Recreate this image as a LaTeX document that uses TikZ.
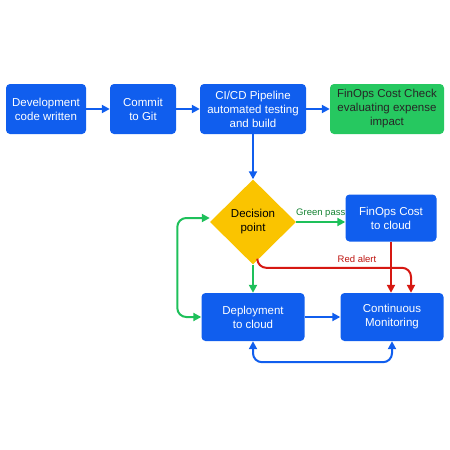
\documentclass[tikz,border=0pt]{standalone}
\usepackage{fontspec}
\setmainfont{Liberation Sans}
\usepackage{tikz}
\usetikzlibrary{shapes.geometric, arrows.meta, positioning, calc}
\definecolor{stageblue}{RGB}{16, 94, 238}
\definecolor{checkgreen}{RGB}{38, 200, 96}
\definecolor{decisiongold}{RGB}{250, 196, 0}
\definecolor{passgreen}{RGB}{30, 192, 90}
\definecolor{alertred}{RGB}{214, 24, 18}
\definecolor{passtext}{RGB}{20, 130, 50}
\definecolor{alerttext}{RGB}{190, 20, 15}

\begin{document}
\begin{tikzpicture}[x=1pt, y=-1pt,
    stage/.style={rectangle, rounded corners=4pt, fill=stageblue, text=white, align=center,
        font=\fontsize{11.5}{14}\selectfont, minimum height=50pt, inner sep=2pt},
    flow/.style={-{Triangle[length=8pt, width=8pt]}, line width=2pt, stageblue},
    passflow/.style={-{Triangle[length=8pt, width=8pt]}, line width=2pt, passgreen},
    alertflow/.style={-{Triangle[length=8pt, width=8pt]}, line width=2pt, alertred},
    bothtips/.style={{Triangle[length=8pt, width=8pt]}-{Triangle[length=8pt, width=8pt]}}]
    \useasboundingbox (0,0) rectangle (450,450);

    % Top row
    \node[stage, minimum width=80pt] (dev) at (46,109) {Development\\code written};
    \node[stage, minimum width=66pt] (commit) at (143,109) {Commit\\to Git};
    \node[stage, minimum width=106pt] (cicd) at (253,109) {CI/CD Pipeline\\automated testing\\and build};
    \node[stage, minimum width=114pt, fill=checkgreen, text=black!85] (costcheck) at (387,109) {FinOps Cost Check\\evaluating expense\\impact};

    % Decision
    \node[diamond, fill=decisiongold, inner sep=0pt, minimum width=86pt, minimum height=85pt,
        align=center, font=\fontsize{11.5}{14}\selectfont] (decide) at (253,222) {Decision\\point};
    \node[stage, minimum width=91pt, minimum height=47pt] (costcloud) at (391,218) {FinOps Cost\\to cloud};

    % Bottom row
    \node[stage, minimum width=103pt, minimum height=48pt] (deploy) at (253,317) {Deployment\\to cloud};
    \node[stage, minimum width=103pt, minimum height=48pt] (monitor) at (392,317) {Continuous\\Monitoring};

    % Arrows
    \draw[flow] (dev) -- (commit);
    \draw[flow] (commit) -- (cicd);
    \draw[flow] (cicd) -- (costcheck);
    \draw[flow] (cicd.south) -- (decide.north);
    \draw[passflow] (decide.east) -- (decide.east -| costcloud.west)
        node[midway, above, font=\fontsize{9.5}{11}\selectfont, text=passtext] (passlabel) {Green pass};
    \draw[passflow] (decide.south) -- (deploy.north);
    \draw[alertflow] (costcloud.south) -- (costcloud.south |- monitor.north);
    \draw[alertflow, rounded corners=9pt] ($(decide.south)!0.1!(decide.east)$)
        |- ($(monitor.north)+(19,-25)$) -- ($(monitor.north)+(19,0)$);
    \node[font=\fontsize{9.5}{11}\selectfont, text=alerttext] (alertlabel) at (357,259) {Red alert};
    \draw[passflow, bothtips, rounded corners=9pt]
        (deploy.west) -- ++(-24,0) |- ($(decide.west)+(0,-4)$);
    \draw[flow] (deploy) -- (monitor);
    \draw[flow, bothtips, rounded corners=9pt]
        (deploy.south) -- ++(0,21) -| (monitor.south);
\end{tikzpicture}
\end{document}
